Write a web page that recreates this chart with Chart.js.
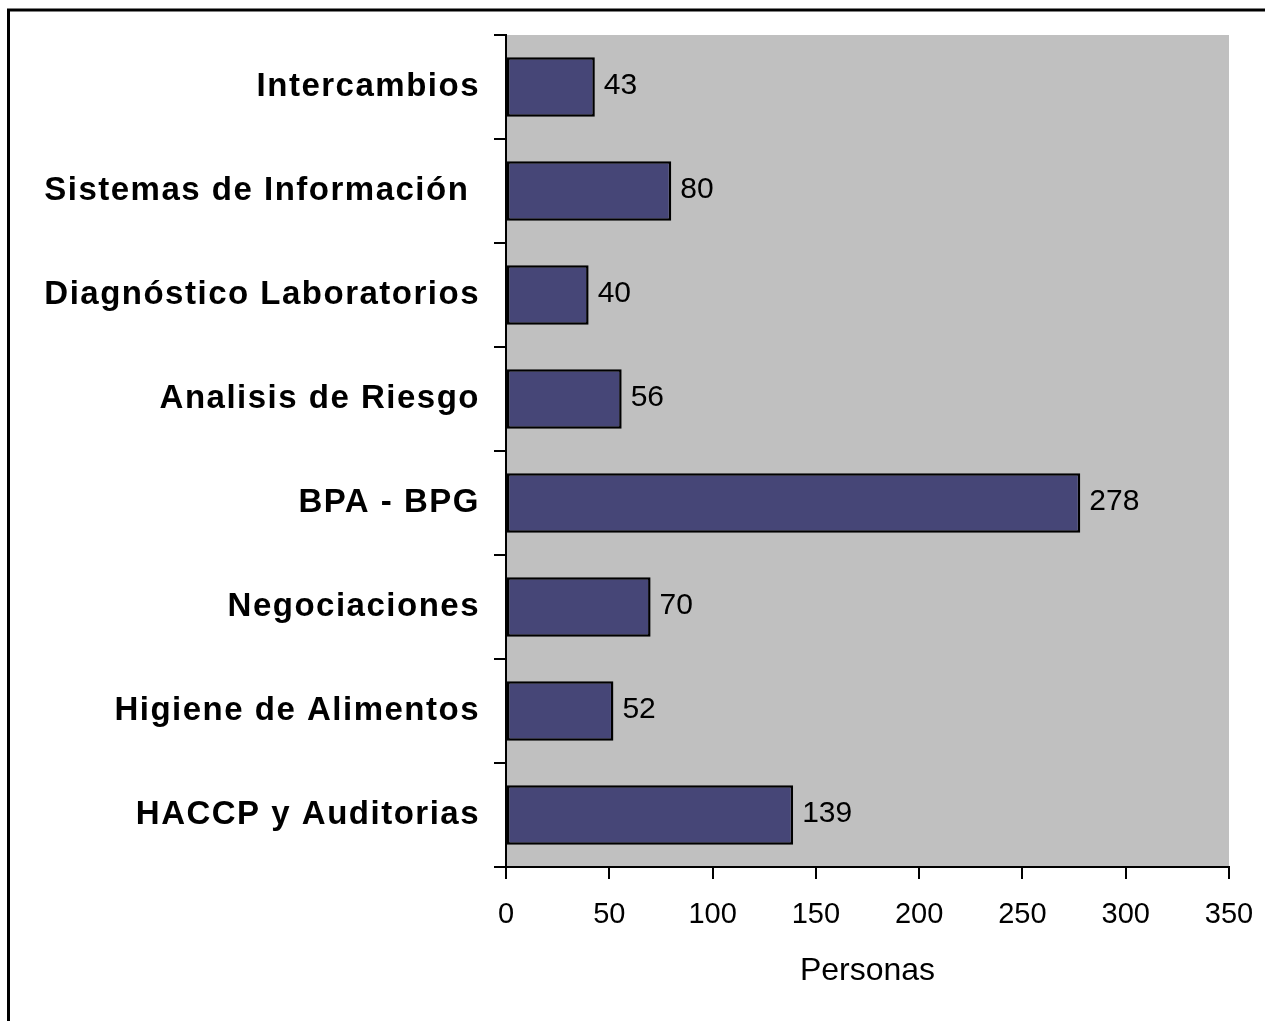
<!DOCTYPE html>
<html>
<head>
<meta charset="utf-8">
<script src="https://cdn.jsdelivr.net/npm/chart.js@4/dist/chart.umd.min.js"></script>
<style>
html,body{margin:0;padding:0;background:#fff;}
#wrap{position:relative;width:1265px;height:1021px;}
</style>
</head>
<body>
<div id="wrap"><canvas id="c" width="1265" height="1021"></canvas></div>
<script>
const categories = [
  "Intercambios",
  "Sistemas de Información ",
  "Diagnóstico Laboratorios",
  "Analisis de Riesgo",
  "BPA - BPG",
  "Negociaciones",
  "Higiene de Alimentos",
  "HACCP y Auditorias"
];
const personas = [43, 80, 40, 56, 278, 70, 52, 139];
const xTicks = [0, 50, 100, 150, 200, 250, 300, 350];
const xTitle = "Personas";

const FONT = '"Liberation Sans", Arial, sans-serif';

const plotBg = {
  id: 'plotBg',
  beforeDraw(chart) {
    const {ctx, chartArea: a} = chart;
    ctx.save();
    ctx.fillStyle = '#c0c0c0';
    ctx.fillRect(a.left, a.top, a.right - a.left, a.bottom - a.top);
    ctx.strokeStyle = '#000';
    ctx.lineWidth = 3;
    ctx.beginPath();
    ctx.moveTo(8.5, 1030);
    ctx.lineTo(8.5, 10);
    ctx.lineTo(1280, 10);
    ctx.stroke();
    ctx.restore();
  }
};

const valueLabels = {
  id: 'valueLabels',
  afterDatasetsDraw(chart) {
    const {ctx} = chart;
    const meta = chart.getDatasetMeta(0);
    ctx.save();
    ctx.letterSpacing = '0px';
    ctx.font = '30px ' + FONT;
    ctx.fillStyle = '#000';
    ctx.textAlign = 'left';
    ctx.textBaseline = 'middle';
    meta.data.forEach((bar, i) => {
      ctx.fillText(String(chart.data.datasets[0].data[i]), bar.x + 9, bar.y - 1);
    });
    ctx.restore();
  }
};

const chart = new Chart(document.getElementById('c'), {
  type: 'bar',
  data: {
    labels: categories,
    datasets: [{
      data: personas,
      backgroundColor: '#464677',
      borderColor: '#000',
      borderWidth: 2.5,
      borderSkipped: false,
      categoryPercentage: 1,
      barPercentage: 0.57
    }]
  },
  options: {
    indexAxis: 'y',
    responsive: false,
    animation: false,
    events: [],
    layout: {padding: {left: 0, right: 36, top: 35, bottom: 0}},
    plugins: {legend: {display: false}, tooltip: {enabled: false}},
    scales: {
      x: {
        type: 'linear',
        min: 0, max: 350,
        afterBuildTicks(scale) { scale.ticks = xTicks.map(v => ({value: v})); },
        afterFit(scale) { scale.height = 154; scale.paddingLeft = 0; scale.paddingRight = 0; },
        border: {display: true, color: '#000', width: 2},
        grid: {drawOnChartArea: false, drawTicks: true, tickLength: 12, color: '#000', lineWidth: 2},
        ticks: {color: '#000', font: {family: FONT, size: 29}, padding: 19, maxRotation: 0},
        title: {display: true, text: xTitle, color: '#000', font: {family: FONT, size: 32}, padding: {top: 0, bottom: 31}}
      },
      y: {
        afterFit(scale) { scale.width = 506; },
        border: {display: true, color: '#000', width: 2},
        grid: {drawOnChartArea: false, drawTicks: true, tickLength: 12, color: '#000', lineWidth: 2},
        ticks: {color: '#000', font: {family: FONT, size: 33, weight: 'bold'}, padding: 14, autoSkip: false}
      }
    }
  },
  plugins: [plotBg, valueLabels]
});

const yScale = chart.scales.y;
const origDrawLabels = yScale.drawLabels;
yScale.drawLabels = function(area) {
  const ctx = this.ctx;
  ctx.save();
  ctx.letterSpacing = '1.5px';
  origDrawLabels.call(this, area);
  ctx.restore();
};
chart.draw();
</script>
</body>
</html>
